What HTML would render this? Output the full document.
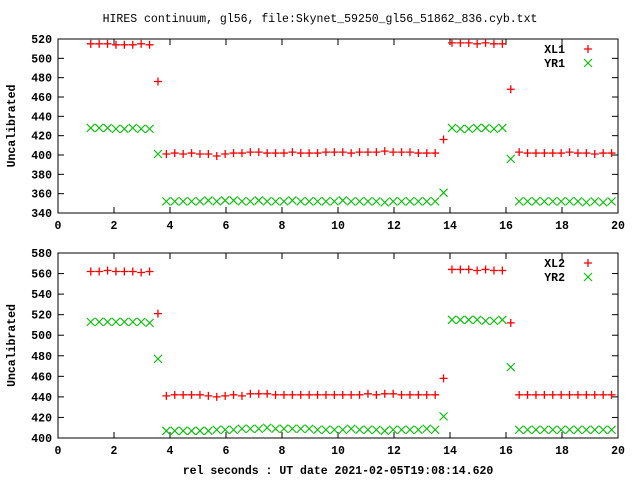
<!DOCTYPE html>
<html><head><meta charset="utf-8"><style>
html,body{margin:0;padding:0;background:#fff;}
svg{display:block;}
text{font-family:"Liberation Mono",monospace;font-weight:bold;font-size:11.5px;fill:#000;}
</style></head><body>
<svg id="chart" width="640" height="480" viewBox="0 0 640 480" xmlns="http://www.w3.org/2000/svg">
<text x="320" y="22" text-anchor="middle" style="font-weight:normal">HIRES continuum, gl56, file:Skynet_59250_gl56_51862_836.cyb.txt</text>
<text x="338" y="474" text-anchor="middle">rel seconds : UT date 2021-02-05T19:08:14.620</text>
</svg>
<script>
const xStart = 1.17, xStep = 0.3;
const xTicks = [0,2,4,6,8,10,12,14,16,18,20];
const yTicksTop = [340,360,380,400,420,440,460,480,500,520];
const yTicksBot = [400,420,440,460,480,500,520,540,560,580];
const XL1 = [515,515,515,514,514,514,515,514,476,
 401,402,401,402,401,401,399,401,402,402,403,403,402,402,402,403,402,402,402,403,403,403,402,403,403,403,404,403,403,403,402,402,402,
 416,516,516,516,515,516,515,515,468,
 403,402,402,402,402,402,403,402,402,401,402,402];
const YR1 = [428,428,428,427,427,428,427,427,401,
 352,352,352,352,352,353,352,353,353,352,352,353,352,352,352,353,352,352,352,352,352,353,352,352,352,352,351,352,352,352,352,352,352,
 361,428,427,427,428,428,427,428,396,
 352,352,352,352,352,352,352,352,351,352,351,352];
const XL2 = [562,562,563,562,562,562,561,562,521,
 441,442,442,442,442,441,440,441,442,441,443,443,443,442,442,442,442,442,442,442,442,442,442,442,443,442,443,443,442,442,442,442,442,
 458,564,564,564,563,564,563,563,512,
 442,442,442,442,442,442,442,442,442,442,442,442];
const YR2 = [513,513,513,513,513,513,513,512,477,
 407,407,407,407,407,407,408,408,408,409,409,409,410,409,409,409,409,409,408,408,408,408,409,408,408,408,407,408,408,408,408,409,408,
 421,515,515,515,515,514,514,515,469,
 408,408,408,408,408,408,408,408,408,408,408,408];

const NS='http://www.w3.org/2000/svg';
const svg=document.getElementById('chart');
function mk(tag,attrs,parent){const e=document.createElementNS(NS,tag);for(const k in attrs)e.setAttribute(k,attrs[k]);(parent||svg).appendChild(e);return e;}

function panel(idx,top,bottom,yMin,yMax,yTicks,s1,s2,n1,n2,legY){
  const L=58,R=618;
  const xs=v=>L+(v-0)/(20-0)*(R-L);
  const ys=v=>bottom-(v-yMin)/(yMax-yMin)*(bottom-top);
  const g=mk('g',{});
  
  
  const f=mk('rect',{x:L,y:top,width:R-L,height:bottom-top,fill:'none',stroke:'#000','stroke-width':1},g);
  
  
  xTicks.forEach(t=>{
    const x=xs(t);
    mk('line',{x1:x,y1:bottom,x2:x,y2:bottom-6,stroke:'#000'},g);
    mk('line',{x1:x,y1:top,x2:x,y2:top+6,stroke:'#000'},g);
    const tx=mk('text',{x:x,y:bottom+16,'text-anchor':'middle'},g);
    tx.textContent=t;
    
    
  });
  yTicks.forEach(t=>{
    const y=ys(t);
    mk('line',{x1:L,y1:y,x2:L+6,y2:y,stroke:'#000'},g);
    mk('line',{x1:R,y1:y,x2:R-6,y2:y,stroke:'#000'},g);
    const tx=mk('text',{x:L-6,y:y+4,'text-anchor':'end'},g);
    tx.textContent=t;
    
    
  });
  const yl=mk('text',{x:0,y:0,'text-anchor':'middle',transform:'translate(15,'+((top+bottom)/2)+') rotate(-90)'},g);
  yl.textContent='Uncalibrated';
  
  
  const plus=(x,y,p)=>{mk('path',{d:`M${x-4},${y}H${x+4}M${x},${y-4}V${y+4}`,stroke:'#ff0000','stroke-width':1.3,fill:'none'},p);};
  const cross=(x,y,p)=>{mk('path',{d:`M${x-4},${y-4}L${x+4},${y+4}M${x-4},${y+4}L${x+4},${y-4}`,stroke:'#00c000','stroke-width':1.1,fill:'none'},p);};
  const g1=mk('g',{},g);
  
  
  s1.forEach((v,i)=>plus(xs(xStart+i*xStep),ys(v),g1));
  const g2=mk('g',{},g);
  
  
  s2.forEach((v,i)=>cross(xs(xStart+i*xStep),ys(v),g2));
  const lg=mk('g',{},g);
  
  
  const t1=mk('text',{x:565,y:legY+4,'text-anchor':'end'},lg);t1.textContent=n1;
  plus(588,legY,lg);
  const t2=mk('text',{x:565,y:legY+18,'text-anchor':'end'},lg);t2.textContent=n2;
  cross(588,legY+14,lg);
}
panel(1,39,213,340,520,yTicksTop,XL1,YR1,'XL1','YR1',49);
panel(2,253,438,400,580,yTicksBot,XL2,YR2,'XL2','YR2',263);
</script>
</body></html>
